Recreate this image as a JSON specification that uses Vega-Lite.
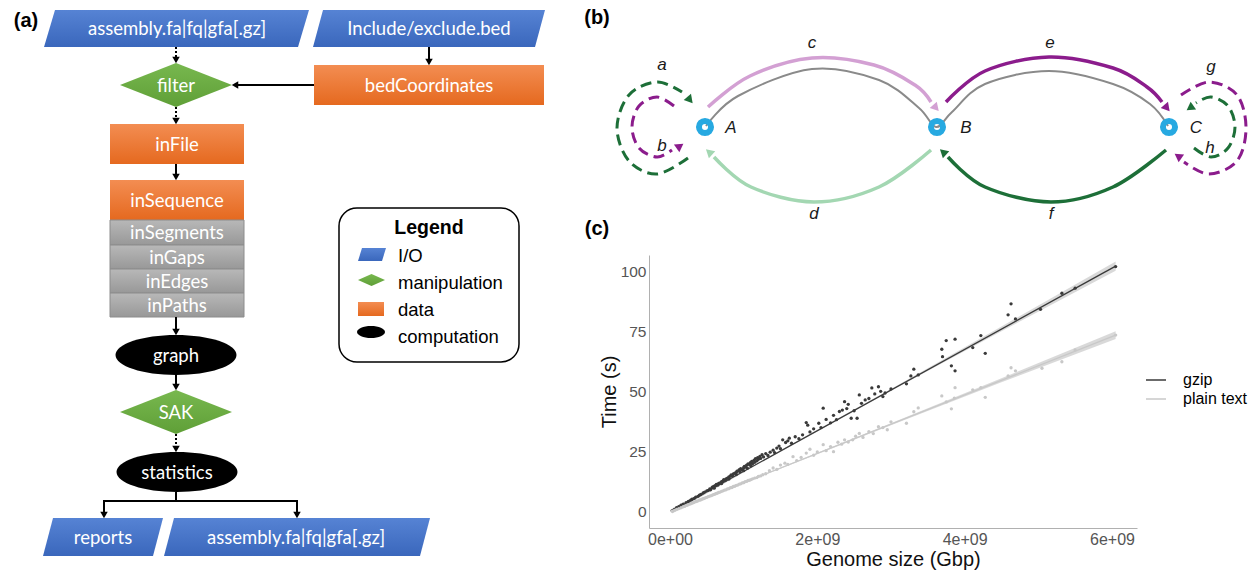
{
"$schema":"https://vega.github.io/schema/vega-lite/v6.json",
"background":"white",
"padding":0,
"spacing":0,
"bounds":"flush",
"config":{"view":{"stroke":null},"concat":{"spacing":0}},
"resolve":{"scale":{"color":"independent","shape":"independent","angle":"independent"},"legend":{"color":"independent"}},
"hconcat":[
{
"width":649,"height":571,
"encoding":{
 "x":{"field":"x","type":"quantitative","scale":{"domain":[0,649],"nice":false,"zero":false},"axis":null},
 "y":{"field":"y","type":"quantitative","scale":{"domain":[0,571],"nice":false,"zero":false,"reverse":true},"axis":null}
},
"layer":[
 {"data":{"values":[{"x":339,"x2":519,"y":208,"y2":362}]},
  "mark":{"type":"rect","fill":"white","stroke":"black","strokeWidth":1.5,"cornerRadius":18},
  "encoding":{"x2":{"field":"x2"},"y2":{"field":"y2"}}},
 {"data":{"values":[
   {"id":"p1","y":10,"x":55,"x2":309},{"id":"p1","y":47,"x":44,"x2":298},
   {"id":"p2","y":10,"x":323,"x2":545},{"id":"p2","y":47,"x":313,"x2":535},
   {"id":"p3","y":518,"x":53,"x2":163},{"id":"p3","y":556,"x":43,"x2":153},
   {"id":"p4","y":518,"x":174,"x2":430},{"id":"p4","y":556,"x":164,"x2":420},
   {"id":"p5","y":248,"x":362,"x2":386},{"id":"p5","y":261,"x":358,"x2":382}]},
  "mark":{"type":"area","orient":"horizontal","color":{"gradient":"linear","x1":0,"y1":0,"x2":0,"y2":1,"stops":[{"offset":0,"color":"#5683d4"},{"offset":1,"color":"#3a67bc"}]}},
  "encoding":{"x2":{"field":"x2"},"detail":{"field":"id"}}},
 {"data":{"values":[
   {"id":"d1","y":63,"x":176,"x2":176},{"id":"d1","y":85,"x":120,"x2":232},{"id":"d1","y":107,"x":176,"x2":176},
   {"id":"d2","y":390,"x":176,"x2":176},{"id":"d2","y":412,"x":120,"x2":232},{"id":"d2","y":434,"x":176,"x2":176},
   {"id":"d3","y":274,"x":371.5,"x2":371.5},{"id":"d3","y":280,"x":358,"x2":385},{"id":"d3","y":286,"x":371.5,"x2":371.5}]},
  "mark":{"type":"area","orient":"horizontal","color":{"gradient":"linear","x1":0,"y1":0,"x2":0,"y2":1,"stops":[{"offset":0,"color":"#78b84f"},{"offset":1,"color":"#5f9f37"}]}},
  "encoding":{"x2":{"field":"x2"},"detail":{"field":"id"}}},
 {"data":{"values":[{"x":314,"x2":544,"y":65,"y2":105},{"x":110,"x2":244,"y":124,"y2":164},{"x":110,"x2":244,"y":180,"y2":220},{"x":358,"x2":384,"y":302,"y2":316}]},
  "mark":{"type":"rect","color":{"gradient":"linear","x1":0,"y1":0,"x2":0,"y2":1,"stops":[{"offset":0,"color":"#f38d52"},{"offset":1,"color":"#e5691f"}]}},
  "encoding":{"x2":{"field":"x2"},"y2":{"field":"y2"}}},
 {"data":{"values":[{"x":110,"x2":244,"y":220,"y2":245},{"x":110,"x2":244,"y":245,"y2":269},{"x":110,"x2":244,"y":269,"y2":293},{"x":110,"x2":244,"y":293,"y2":317}]},
  "mark":{"type":"rect","stroke":"#8c8c8c","strokeWidth":1,"color":{"gradient":"linear","x1":0,"y1":0,"x2":0,"y2":1,"stops":[{"offset":0,"color":"#b8b8b8"},{"offset":1,"color":"#989898"}]}},
  "encoding":{"x2":{"field":"x2"},"y2":{"field":"y2"}}},
 {"data":{"values":[{"x":176,"y":355},{"x":177,"y":472}]},
  "mark":{"type":"point","shape":"M-1,0C-1,-0.182,-0.552,-0.33,0,-0.33C0.552,-0.33,1,-0.182,1,0C1,0.182,0.552,0.33,0,0.33C-0.552,0.33,-1,0.182,-1,0Z","size":14641,"filled":true,"color":"black","opacity":1}},
 {"data":{"values":[{"x":371,"y":332}]},
  "mark":{"type":"point","shape":"M-1,0C-1,-0.2375,-0.552,-0.43,0,-0.43C0.552,-0.43,1,-0.2375,1,0C1,0.2375,0.552,0.43,0,0.43C-0.552,0.43,-1,0.2375,-1,0Z","size":784,"filled":true,"color":"black","opacity":1}},
 {"data":{"values":[{"x":429,"y":47,"x2":429,"y2":62},{"x":314,"y":85,"x2":236,"y2":85},{"x":176,"y":164,"x2":176,"y2":177},{"x":176,"y":317,"x2":176,"y2":332},{"x":176,"y":375,"x2":176,"y2":387},{"x":176,"y":492,"x2":176,"y2":501},{"x":103,"y":501,"x2":298,"y2":501},{"x":104,"y":501,"x2":104,"y2":515},{"x":297,"y":501,"x2":297,"y2":515}]},
  "mark":{"type":"rule","color":"black","strokeWidth":2},
  "encoding":{"x2":{"field":"x2"},"y2":{"field":"y2"}}},
 {"data":{"values":[{"x":176,"y":47,"x2":176,"y2":60},{"x":176,"y":107,"x2":176,"y2":121},{"x":176,"y":434,"x2":176,"y2":449}]},
  "mark":{"type":"rule","color":"black","strokeWidth":2,"strokeDash":[2,2]},
  "encoding":{"x2":{"field":"x2"},"y2":{"field":"y2"}}},
 {"data":{"values":[{"x":176,"y":60,"dir":"down"},{"x":429,"y":62,"dir":"down"},{"x":176,"y":121,"dir":"down"},{"x":176,"y":177,"dir":"down"},{"x":176,"y":332,"dir":"down"},{"x":176,"y":387,"dir":"down"},{"x":176,"y":449,"dir":"down"},{"x":104,"y":515,"dir":"down"},{"x":297,"y":515,"dir":"down"},{"x":235,"y":85,"dir":"left"}]},
  "mark":{"type":"point","filled":true,"color":"black","opacity":1,"size":56},
  "encoding":{"shape":{"field":"dir","type":"nominal","scale":{"domain":["down","left"],"range":["triangle-down","triangle-left"]},"legend":null}}},
 {"data":{"values":[
   {"x":177,"y":29,"t":"assembly.fa|fq|gfa[.gz]"},{"x":429,"y":29,"t":"Include/exclude.bed"},
   {"x":176,"y":86,"t":"filter"},{"x":429,"y":86,"t":"bedCoordinates"},
   {"x":177,"y":145,"t":"inFile"},{"x":177,"y":201,"t":"inSequence"},
   {"x":177,"y":233,"t":"inSegments"},{"x":177,"y":258,"t":"inGaps"},
   {"x":177,"y":282,"t":"inEdges"},{"x":177,"y":306,"t":"inPaths"},
   {"x":176,"y":356,"t":"graph"},{"x":176,"y":413,"t":"SAK"},
   {"x":177,"y":473,"t":"statistics"},{"x":103,"y":538,"t":"reports"},
   {"x":296,"y":538,"t":"assembly.fa|fq|gfa[.gz]"}]},
  "mark":{"type":"text","font":"Lato","fontSize":18.5,"color":"white","align":"center","baseline":"middle"},
  "encoding":{"text":{"field":"t"}}},
 {"data":{"values":[{"x":398,"y":256,"t":"I/O"},{"x":398,"y":283,"t":"manipulation"},{"x":398,"y":310,"t":"data"},{"x":398,"y":337,"t":"computation"}]},
  "mark":{"type":"text","font":"Liberation Sans","fontSize":18.5,"color":"black","align":"left","baseline":"middle"},
  "encoding":{"text":{"field":"t"}}},
 {"data":{"values":[{"x":429,"y":228,"t":"Legend"}]},
  "mark":{"type":"text","font":"Liberation Sans","fontSize":19.5,"fontWeight":"bold","color":"black","align":"center","baseline":"middle"},
  "encoding":{"text":{"field":"t"}}},
 {"data":{"values":[{"x":26,"y":21,"t":"(a)"}]},
  "mark":{"type":"text","font":"Liberation Sans","fontSize":20,"fontWeight":"bold","color":"black","align":"center","baseline":"middle"},
  "encoding":{"text":{"field":"t"}}}
]
},
{"vconcat":[
{
"width":600,"height":255,
"encoding":{
 "x":{"field":"x","type":"quantitative","scale":{"domain":[649,1249],"nice":false,"zero":false},"axis":null},
 "y":{"field":"y","type":"quantitative","scale":{"domain":[0,255],"nice":false,"zero":false,"reverse":true},"axis":null}
},
"layer":[
 {"data":{"values":[{"i":1,"x":706,"y":126},{"i":2,"x":738,"y":96},{"i":3,"x":812,"y":69},{"i":4,"x":879,"y":80},{"i":5,"x":919,"y":108},{"i":6,"x":936,"y":127},{"i":7,"x":952,"y":112},{"i":8,"x":985,"y":84},{"i":9,"x":1049,"y":71},{"i":10,"x":1113,"y":84},{"i":11,"x":1150,"y":104},{"i":12,"x":1168,"y":126}]},
  "mark":{"type":"line","interpolate":"cardinal","color":"#8a8a8a","strokeWidth":2},
  "encoding":{"order":{"field":"i","type":"quantitative"}}},
 {"data":{"values":[
   {"e":"c","i":1,"x":708,"y":107},{"e":"c","i":2,"x":750,"y":76},{"e":"c","i":3,"x":812,"y":58},{"e":"c","i":4,"x":874,"y":65},{"e":"c","i":5,"x":915,"y":85},{"e":"c","i":6,"x":931,"y":102},
   {"e":"e","i":1,"x":946,"y":102},{"e":"e","i":2,"x":985,"y":71},{"e":"e","i":3,"x":1049,"y":57},{"e":"e","i":4,"x":1113,"y":68},{"e":"e","i":5,"x":1147,"y":87},{"e":"e","i":6,"x":1162,"y":102},
   {"e":"d","i":1,"x":931,"y":150},{"e":"d","i":2,"x":879,"y":187},{"e":"d","i":3,"x":814,"y":202},{"e":"d","i":4,"x":751,"y":187},{"e":"d","i":5,"x":714,"y":157},
   {"e":"f","i":1,"x":1166,"y":150},{"e":"f","i":2,"x":1113,"y":187},{"e":"f","i":3,"x":1051,"y":202},{"e":"f","i":4,"x":985,"y":187},{"e":"f","i":5,"x":948,"y":157}]},
  "mark":{"type":"line","interpolate":"cardinal","strokeWidth":3.5},
  "encoding":{"order":{"field":"i","type":"quantitative"},"color":{"field":"e","type":"nominal","scale":{"domain":["a","b","c","d","e","f","g","h"],"range":["#1d6f38","#8b1c8c","#d3a0d3","#a3d7b2","#8b1c8c","#1d6f38","#8b1c8c","#1d6f38"]},"legend":null}}},
 {"data":{"values":[
   {"e":"a","i":1,"x":688,"y":158},{"e":"a","i":2,"x":657,"y":174},{"e":"a","i":3,"x":629,"y":161},{"e":"a","i":4,"x":617,"y":128},{"e":"a","i":5,"x":629,"y":95},{"e":"a","i":6,"x":657,"y":82},{"e":"a","i":7,"x":682,"y":92},
   {"e":"b","i":1,"x":674,"y":106},{"e":"b","i":2,"x":657,"y":97},{"e":"b","i":3,"x":639,"y":106},{"e":"b","i":4,"x":632,"y":127},{"e":"b","i":5,"x":639,"y":148},{"e":"b","i":6,"x":657,"y":157},{"e":"b","i":7,"x":672,"y":150},
   {"e":"g","i":1,"x":1181,"y":95},{"e":"g","i":2,"x":1209,"y":82},{"e":"g","i":3,"x":1237,"y":95},{"e":"g","i":4,"x":1246,"y":128},{"e":"g","i":5,"x":1237,"y":161},{"e":"g","i":6,"x":1209,"y":174},{"e":"g","i":7,"x":1184,"y":162},
   {"e":"h","i":1,"x":1194,"y":148},{"e":"h","i":2,"x":1211,"y":157},{"e":"h","i":3,"x":1228,"y":148},{"e":"h","i":4,"x":1235,"y":127},{"e":"h","i":5,"x":1228,"y":106},{"e":"h","i":6,"x":1211,"y":97},{"e":"h","i":7,"x":1196,"y":103}]},
  "mark":{"type":"line","interpolate":"cardinal","strokeWidth":3,"strokeDash":[11,6]},
  "encoding":{"order":{"field":"i","type":"quantitative"},"color":{"field":"e","type":"nominal","legend":null},"detail":{"field":"e"}}},
 {"data":{"values":[
   {"e":"c","x":936,"y":108,"ang":138},{"e":"e","x":1167,"y":108,"ang":140},
   {"e":"d","x":709,"y":152,"ang":312},{"e":"f","x":943,"y":152,"ang":312},
   {"e":"a","x":690,"y":100,"ang":140},{"e":"b","x":680,"y":146,"ang":55},
   {"e":"g","x":1178,"y":156,"ang":305},{"e":"h","x":1190,"y":108,"ang":235}]},
  "mark":{"type":"point","shape":"triangle-up","filled":true,"opacity":1,"size":90},
  "encoding":{"color":{"field":"e","type":"nominal","legend":null},"angle":{"field":"ang","type":"quantitative","scale":null}}},
 {"data":{"values":[{"x":705,"y":127},{"x":937,"y":127},{"x":1169,"y":127}]},
  "mark":{"type":"point","shape":"circle","filled":false,"color":"#27a9e1","strokeWidth":6,"opacity":1,"size":145}},
 {"data":{"values":[{"x":662,"y":65,"t":"a"},{"x":662,"y":146,"t":"b"},{"x":812,"y":43,"t":"c"},{"x":814,"y":214,"t":"d"},{"x":1050,"y":43,"t":"e"},{"x":1051,"y":214,"t":"f"},{"x":1211,"y":67,"t":"g"},{"x":1210,"y":148,"t":"h"},{"x":731,"y":128,"t":"A"},{"x":966,"y":128,"t":"B"},{"x":1196,"y":128,"t":"C"}]},
  "mark":{"type":"text","font":"Liberation Sans","fontSize":17,"fontStyle":"italic","color":"#1a1a1a","align":"center","baseline":"middle"},
  "encoding":{"text":{"field":"t"}}},
 {"data":{"values":[{"x":597,"y":18,"t":"(b)"},{"x":597,"y":229,"t":"(c)"}]},
  "mark":{"type":"text","font":"Liberation Sans","fontSize":20,"fontWeight":"bold","color":"black","align":"center","baseline":"middle"},
  "encoding":{"text":{"field":"t"}}}
]
},
{
"width":488,"height":273,
"encoding":{
 "x":{"field":"size","type":"quantitative","scale":{"domain":[-285000000,6340000000],"nice":false,"zero":false},
  "axis":{"title":"Genome size (Gbp)","values":[0,2e9,4e9,6e9],"labelExpr":"replace(format(datum.value, '.0e'), 'e+', 'e+0')","ticks":false,"grid":false,"domainColor":"#b0b0b0","labelColor":"#555555","labelFontSize":16,"labelFont":"Liberation Sans","titleFont":"Liberation Sans","titleFontSize":20,"titleFontWeight":"normal","titleColor":"#111111","labelPadding":3,"titlePadding":2,"labelFlush":false}}
},
"layer":[
 {"data":{"values":[
   {"format":"gzip","size":0.03e9,"lo":-0.6,"hi":1.6},{"format":"gzip","size":1.2e9,"lo":20.0,"hi":20.6},{"format":"gzip","size":3e9,"lo":50.4,"hi":51.2},{"format":"gzip","size":4.5e9,"lo":75.2,"hi":77.2},{"format":"gzip","size":6.05e9,"lo":100.4,"hi":104.2},
   {"format":"plain text","size":0.03e9,"lo":-0.4,"hi":1.2},{"format":"plain text","size":1.2e9,"lo":14.4,"hi":14.8},{"format":"plain text","size":3e9,"lo":36.1,"hi":36.9},{"format":"plain text","size":4.5e9,"lo":54.0,"hi":55.6},{"format":"plain text","size":6.05e9,"lo":72.0,"hi":75.2}]},
  "mark":{"type":"area","color":"#cfcfcf","opacity":0.8},
  "encoding":{
   "y":{"field":"lo","type":"quantitative","scale":{"domain":[-6.66,106.9],"nice":false,"zero":false},
    "axis":{"title":"Time (s)","values":[0,25,50,75,100],"ticks":false,"grid":false,"domainColor":"#b0b0b0","labelColor":"#555555","labelFontSize":15.5,"labelFont":"Liberation Sans","titleFont":"Liberation Sans","titleFontSize":20,"titleFontWeight":"normal","titleColor":"#111111","labelPadding":3,"titlePadding":1}},
   "y2":{"field":"hi"},"detail":{"field":"format"}}},
 {"data":{"values":[
   {"format":"gzip","size":0.03e9,"fit":0.5},{"format":"gzip","size":6.05e9,"fit":102.3},
   {"format":"plain text","size":0.03e9,"fit":0.4},{"format":"plain text","size":6.05e9,"fit":73.6}]},
  "mark":{"type":"line","strokeWidth":1.3},
  "encoding":{
   "y":{"field":"fit","type":"quantitative","title":"Time (s)"},
   "color":{"field":"format","type":"nominal","scale":{"domain":["gzip","plain text"],"range":["#3a3a3a","#c8c8c8"]},
    "legend":{"title":null,"orient":"none","legendX":496,"legendY":114,"symbolType":"stroke","symbolSize":400,"symbolStrokeWidth":1.5,"labelFontSize":16,"labelFont":"Liberation Sans","labelColor":"black","labelOffset":16,"rowPadding":0,"padding":0}}}},
 {"data":{"values":[
{"format":"gzip","size":0.03e9,"time":0.6},{"format":"gzip","size":0.06e9,"time":1.1},{"format":"gzip","size":0.09e9,"time":1.8},{"format":"gzip","size":0.12e9,"time":2.2},{"format":"gzip","size":0.15e9,"time":2.8},{"format":"gzip","size":0.18e9,"time":3.3},{"format":"gzip","size":0.22e9,"time":3.9},{"format":"gzip","size":0.25e9,"time":4.4},{"format":"gzip","size":0.28e9,"time":4.9},{"format":"gzip","size":0.3e9,"time":5.3},
{"format":"gzip","size":0.33e9,"time":5.7},{"format":"gzip","size":0.35e9,"time":6.2},{"format":"gzip","size":0.38e9,"time":6.5},{"format":"gzip","size":0.4e9,"time":7.0},{"format":"gzip","size":0.42e9,"time":7.3},{"format":"gzip","size":0.45e9,"time":7.9},{"format":"gzip","size":0.47e9,"time":8.3},{"format":"gzip","size":0.5e9,"time":8.8},{"format":"gzip","size":0.52e9,"time":9.0},{"format":"gzip","size":0.54e9,"time":9.6},
{"format":"gzip","size":0.55e9,"time":9.2},{"format":"gzip","size":0.57e9,"time":10.1},{"format":"gzip","size":0.58e9,"time":10.4},{"format":"gzip","size":0.6e9,"time":10.7},{"format":"gzip","size":0.6e9,"time":9.9},{"format":"gzip","size":0.62e9,"time":11.1},{"format":"gzip","size":0.63e9,"time":11.5},{"format":"gzip","size":0.65e9,"time":11.2},{"format":"gzip","size":0.66e9,"time":11.9},{"format":"gzip","size":0.68e9,"time":12.1},
{"format":"gzip","size":0.7e9,"time":12.6},{"format":"gzip","size":0.7e9,"time":11.8},{"format":"gzip","size":0.72e9,"time":12.9},{"format":"gzip","size":0.73e9,"time":13.4},{"format":"gzip","size":0.75e9,"time":13.1},{"format":"gzip","size":0.76e9,"time":13.8},{"format":"gzip","size":0.78e9,"time":14.1},{"format":"gzip","size":0.8e9,"time":14.6},{"format":"gzip","size":0.8e9,"time":13.7},{"format":"gzip","size":0.82e9,"time":14.9},
{"format":"gzip","size":0.83e9,"time":15.4},{"format":"gzip","size":0.85e9,"time":15.1},{"format":"gzip","size":0.86e9,"time":15.8},{"format":"gzip","size":0.88e9,"time":16.2},{"format":"gzip","size":0.9e9,"time":16.5},{"format":"gzip","size":0.9e9,"time":15.6},{"format":"gzip","size":0.91e9,"time":17.0},{"format":"gzip","size":0.93e9,"time":17.1},{"format":"gzip","size":0.94e9,"time":17.6},{"format":"gzip","size":0.95e9,"time":16.8},
{"format":"gzip","size":0.96e9,"time":18.0},{"format":"gzip","size":0.98e9,"time":17.6},{"format":"gzip","size":1.0e9,"time":18.4},{"format":"gzip","size":1.0e9,"time":17.2},{"format":"gzip","size":1.01e9,"time":19.0},{"format":"gzip","size":1.03e9,"time":18.7},{"format":"gzip","size":1.04e9,"time":19.5},{"format":"gzip","size":1.05e9,"time":18.2},{"format":"gzip","size":1.06e9,"time":20.0},{"format":"gzip","size":1.08e9,"time":19.6},
{"format":"gzip","size":1.09e9,"time":20.5},{"format":"gzip","size":1.1e9,"time":19.2},{"format":"gzip","size":1.11e9,"time":21.0},{"format":"gzip","size":1.12e9,"time":20.1},{"format":"gzip","size":1.14e9,"time":21.5},{"format":"gzip","size":1.15e9,"time":20.7},{"format":"gzip","size":1.16e9,"time":22.2},{"format":"gzip","size":1.18e9,"time":21.3},{"format":"gzip","size":1.19e9,"time":22.6},{"format":"gzip","size":1.2e9,"time":21.9},
{"format":"gzip","size":1.22e9,"time":23.1},{"format":"gzip","size":1.23e9,"time":22.3},{"format":"gzip","size":1.25e9,"time":23.8},{"format":"gzip","size":1.27e9,"time":22.9},{"format":"gzip","size":1.3e9,"time":24.3},{"format":"gzip","size":1.33e9,"time":23.5},{"format":"gzip","size":1.36e9,"time":24.9},{"format":"gzip","size":1.4e9,"time":25.7},{"format":"gzip","size":1.42e9,"time":24.7},{"format":"gzip","size":1.45e9,"time":26.6},
{"format":"gzip","size":1.48e9,"time":27.4},{"format":"gzip","size":1.5e9,"time":26.3},{"format":"gzip","size":1.53e9,"time":30.0},{"format":"gzip","size":1.57e9,"time":28.9},{"format":"gzip","size":1.6e9,"time":29.6},{"format":"gzip","size":1.62e9,"time":30.7},{"format":"gzip","size":1.65e9,"time":28.6},{"format":"gzip","size":1.7e9,"time":31.3},{"format":"gzip","size":1.75e9,"time":30.5},{"format":"gzip","size":1.8e9,"time":32.1},
{"format":"gzip","size":1.85e9,"time":37.2},{"format":"gzip","size":1.87e9,"time":36.1},{"format":"gzip","size":1.9e9,"time":33.3},{"format":"gzip","size":1.95e9,"time":34.6},{"format":"gzip","size":2.02e9,"time":36.9},{"format":"gzip","size":2.05e9,"time":35.1},{"format":"gzip","size":2.08e9,"time":43.2},{"format":"gzip","size":2.12e9,"time":38.5},{"format":"gzip","size":2.18e9,"time":37.1},{"format":"gzip","size":2.22e9,"time":40.2},
{"format":"gzip","size":2.26e9,"time":38.4},{"format":"gzip","size":2.3e9,"time":41.8},{"format":"gzip","size":2.34e9,"time":42.4},{"format":"gzip","size":2.37e9,"time":45.9},{"format":"gzip","size":2.4e9,"time":43.0},{"format":"gzip","size":2.42e9,"time":44.8},{"format":"gzip","size":2.46e9,"time":39.0},{"format":"gzip","size":2.5e9,"time":42.1},{"format":"gzip","size":2.54e9,"time":39.0},{"format":"gzip","size":2.57e9,"time":48.7},
{"format":"gzip","size":2.6e9,"time":45.2},{"format":"gzip","size":2.65e9,"time":46.6},{"format":"gzip","size":2.7e9,"time":47.2},{"format":"gzip","size":2.74e9,"time":51.6},{"format":"gzip","size":2.78e9,"time":49.1},{"format":"gzip","size":2.83e9,"time":52.1},{"format":"gzip","size":2.86e9,"time":50.2},{"format":"gzip","size":2.89e9,"time":48.0},{"format":"gzip","size":2.92e9,"time":49.5},{"format":"gzip","size":3.0e9,"time":51.2},
{"format":"gzip","size":3.21e9,"time":53.3},{"format":"gzip","size":3.27e9,"time":56.6},{"format":"gzip","size":3.31e9,"time":59.4},{"format":"gzip","size":3.37e9,"time":57.0},{"format":"gzip","size":3.69e9,"time":67.7},{"format":"gzip","size":3.7e9,"time":64.6},{"format":"gzip","size":3.75e9,"time":71.3},{"format":"gzip","size":3.82e9,"time":60.8},{"format":"gzip","size":3.87e9,"time":71.9},{"format":"gzip","size":3.87e9,"time":58.7},
{"format":"gzip","size":4.11e9,"time":68.4},{"format":"gzip","size":4.22e9,"time":73.4},{"format":"gzip","size":4.28e9,"time":66.0},{"format":"gzip","size":4.59e9,"time":82.0},{"format":"gzip","size":4.63e9,"time":86.6},{"format":"gzip","size":4.69e9,"time":80.3},{"format":"gzip","size":5.03e9,"time":84.3},{"format":"gzip","size":5.32e9,"time":91.0},{"format":"gzip","size":5.5e9,"time":93.1},{"format":"gzip","size":6.05e9,"time":102.1},
{"format":"plain text","size":0.03e9,"time":0.3},{"format":"plain text","size":0.06e9,"time":0.7},{"format":"plain text","size":0.09e9,"time":1.1},{"format":"plain text","size":0.12e9,"time":1.4},{"format":"plain text","size":0.15e9,"time":1.8},{"format":"plain text","size":0.18e9,"time":2.2},{"format":"plain text","size":0.2e9,"time":2.4},{"format":"plain text","size":0.23e9,"time":2.8},{"format":"plain text","size":0.25e9,"time":3.1},{"format":"plain text","size":0.28e9,"time":3.4},
{"format":"plain text","size":0.3e9,"time":3.7},{"format":"plain text","size":0.32e9,"time":3.9},{"format":"plain text","size":0.35e9,"time":4.3},{"format":"plain text","size":0.37e9,"time":4.5},{"format":"plain text","size":0.4e9,"time":4.9},{"format":"plain text","size":0.42e9,"time":5.1},{"format":"plain text","size":0.44e9,"time":5.4},{"format":"plain text","size":0.46e9,"time":5.6},{"format":"plain text","size":0.48e9,"time":5.9},{"format":"plain text","size":0.5e9,"time":6.1},
{"format":"plain text","size":0.52e9,"time":6.4},{"format":"plain text","size":0.54e9,"time":6.6},{"format":"plain text","size":0.56e9,"time":6.8},{"format":"plain text","size":0.58e9,"time":7.1},{"format":"plain text","size":0.6e9,"time":7.3},{"format":"plain text","size":0.62e9,"time":7.6},{"format":"plain text","size":0.64e9,"time":7.8},{"format":"plain text","size":0.66e9,"time":8.1},{"format":"plain text","size":0.68e9,"time":8.3},{"format":"plain text","size":0.7e9,"time":8.6},
{"format":"plain text","size":0.72e9,"time":8.8},{"format":"plain text","size":0.74e9,"time":9.1},{"format":"plain text","size":0.76e9,"time":9.2},{"format":"plain text","size":0.78e9,"time":9.6},{"format":"plain text","size":0.8e9,"time":9.7},{"format":"plain text","size":0.82e9,"time":10.1},{"format":"plain text","size":0.84e9,"time":10.2},{"format":"plain text","size":0.86e9,"time":10.6},{"format":"plain text","size":0.88e9,"time":10.7},{"format":"plain text","size":0.9e9,"time":11.1},
{"format":"plain text","size":0.92e9,"time":11.2},{"format":"plain text","size":0.94e9,"time":11.6},{"format":"plain text","size":0.96e9,"time":11.7},{"format":"plain text","size":0.98e9,"time":12.1},{"format":"plain text","size":1.0e9,"time":12.2},{"format":"plain text","size":1.02e9,"time":12.6},{"format":"plain text","size":1.04e9,"time":12.7},{"format":"plain text","size":1.06e9,"time":13.1},{"format":"plain text","size":1.08e9,"time":13.2},{"format":"plain text","size":1.1e9,"time":13.5},
{"format":"plain text","size":1.12e9,"time":13.8},{"format":"plain text","size":1.15e9,"time":14.1},{"format":"plain text","size":1.18e9,"time":14.3},{"format":"plain text","size":1.2e9,"time":14.8},{"format":"plain text","size":1.23e9,"time":15.0},{"format":"plain text","size":1.26e9,"time":15.5},{"format":"plain text","size":1.3e9,"time":15.9},{"format":"plain text","size":1.35e9,"time":17.2},{"format":"plain text","size":1.4e9,"time":18.3},{"format":"plain text","size":1.45e9,"time":17.7},
{"format":"plain text","size":1.5e9,"time":19.5},{"format":"plain text","size":1.56e9,"time":20.3},{"format":"plain text","size":1.6e9,"time":19.8},{"format":"plain text","size":1.67e9,"time":23.0},{"format":"plain text","size":1.72e9,"time":21.4},{"format":"plain text","size":1.78e9,"time":22.7},{"format":"plain text","size":1.85e9,"time":24.5},{"format":"plain text","size":1.9e9,"time":26.1},{"format":"plain text","size":1.95e9,"time":23.6},{"format":"plain text","size":2.0e9,"time":25.0},
{"format":"plain text","size":2.08e9,"time":28.0},{"format":"plain text","size":2.12e9,"time":25.5},{"format":"plain text","size":2.18e9,"time":27.2},{"format":"plain text","size":2.22e9,"time":25.1},{"format":"plain text","size":2.28e9,"time":29.0},{"format":"plain text","size":2.33e9,"time":28.2},{"format":"plain text","size":2.37e9,"time":30.0},{"format":"plain text","size":2.42e9,"time":29.1},{"format":"plain text","size":2.48e9,"time":30.0},{"format":"plain text","size":2.52e9,"time":31.5},
{"format":"plain text","size":2.57e9,"time":32.7},{"format":"plain text","size":2.62e9,"time":31.0},{"format":"plain text","size":2.7e9,"time":33.4},{"format":"plain text","size":2.76e9,"time":32.6},{"format":"plain text","size":2.83e9,"time":35.5},{"format":"plain text","size":2.89e9,"time":35.1},{"format":"plain text","size":2.95e9,"time":34.2},{"format":"plain text","size":3.0e9,"time":37.5},{"format":"plain text","size":3.21e9,"time":36.9},{"format":"plain text","size":3.31e9,"time":41.7},
{"format":"plain text","size":3.37e9,"time":43.3},{"format":"plain text","size":3.69e9,"time":48.3},{"format":"plain text","size":3.75e9,"time":45.8},{"format":"plain text","size":3.82e9,"time":42.9},{"format":"plain text","size":3.86e9,"time":47.4},{"format":"plain text","size":3.87e9,"time":51.7},{"format":"plain text","size":4.11e9,"time":50.8},{"format":"plain text","size":4.22e9,"time":51.7},{"format":"plain text","size":4.28e9,"time":47.7},{"format":"plain text","size":4.59e9,"time":56.6},
{"format":"plain text","size":4.63e9,"time":60.0},{"format":"plain text","size":4.69e9,"time":58.7},{"format":"plain text","size":5.05e9,"time":59.8},{"format":"plain text","size":5.32e9,"time":62.5},{"format":"plain text","size":5.5e9,"time":67.4},{"format":"plain text","size":6.05e9,"time":73.6}]},
  "mark":{"type":"point","filled":true,"size":11,"opacity":1},
  "encoding":{
   "y":{"field":"time","type":"quantitative","title":"Time (s)"},
   "color":{"field":"format","type":"nominal","legend":null}}}
]
}
],"spacing":0,"bounds":"flush","resolve":{"scale":{"color":"independent","shape":"independent","angle":"independent"},"legend":{"color":"independent"}}}
]
}
